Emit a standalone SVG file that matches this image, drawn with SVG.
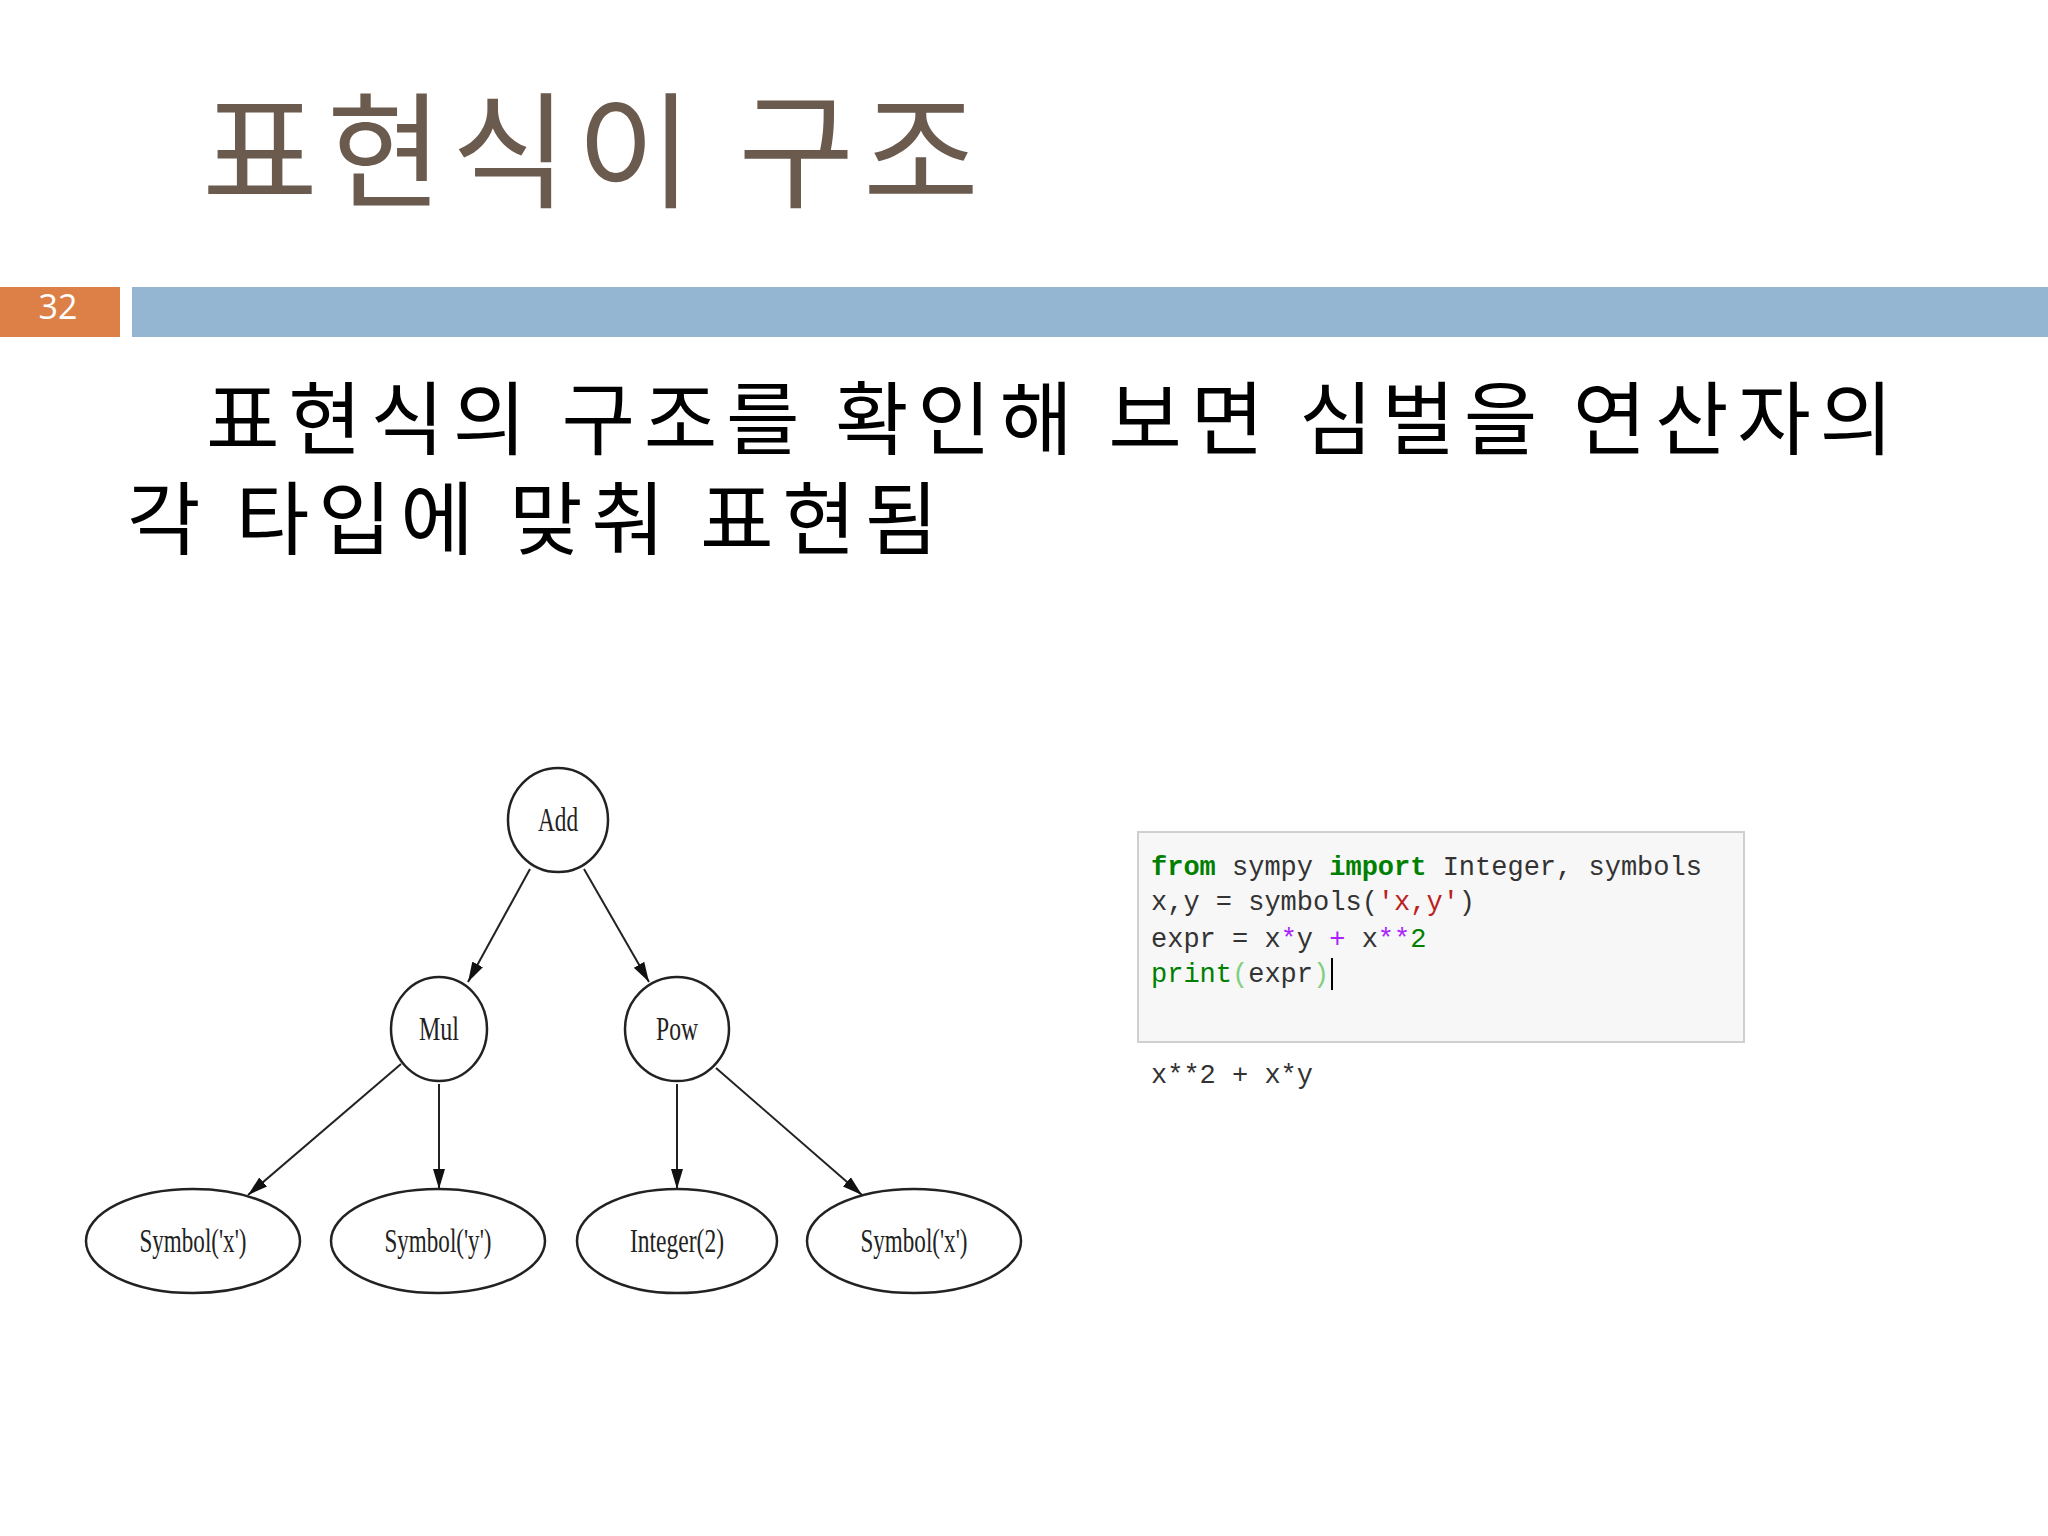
<svg xmlns="http://www.w3.org/2000/svg" width="2048" height="1536" viewBox="0 0 2048 1536">
<defs>
<marker id="ah" viewBox="0 0 10 10" refX="10" refY="5" markerWidth="20" markerHeight="20" markerUnits="userSpaceOnUse" orient="auto"><path d="M0,2 L10,5 L0,8 z" fill="#111"/></marker>
<style>
.n{fill:#fff;stroke:#222;stroke-width:2.5}
.lb{font-family:"Liberation Serif",serif;font-size:34px;fill:#222;text-anchor:middle}
.e{stroke:#222;stroke-width:2;marker-end:url(#ah);fill:none}
.kr{font-family:"Noto Sans CJK KR",sans-serif}
.code{font-family:"Liberation Mono","DejaVu Sans Mono",monospace;font-size:27px;fill:#333}
.k{fill:#008000;font-weight:bold}
.s{fill:#ba2121}
.o{fill:#aa22ff}
.g{fill:#008000}
</style>
</defs>
<rect width="2048" height="1536" fill="#fff"/>
<text class="kr" x="202" y="198" font-size="126" fill="#6b5a4e" textLength="777" lengthAdjust="spacing">표현식이 구조</text>
<rect x="0" y="287" width="120" height="50" fill="#dd8047"/>
<text x="58" y="319" font-family="Open Sans,sans-serif" font-size="34" fill="#fff" text-anchor="middle">32</text>
<rect x="132" y="287" width="1916" height="50" fill="#94b6d2"/>
<text class="kr" x="206" y="448" font-size="80" fill="#000" textLength="1687" lengthAdjust="spacing">표현식의 구조를 확인해 보면 심벌을 연산자의</text>
<text class="kr" x="127" y="548" font-size="80" fill="#000" textLength="811" lengthAdjust="spacing">각 타입에 맞춰 표현됨</text>
<g id="edges">
<line class="e" x1="530" y1="869" x2="468" y2="982"/>
<line class="e" x1="584" y1="869" x2="649" y2="982"/>
<line class="e" x1="401" y1="1064" x2="248" y2="1195"/>
<line class="e" x1="439" y1="1084" x2="439" y2="1189"/>
<line class="e" x1="677" y1="1084" x2="677" y2="1189"/>
<line class="e" x1="716" y1="1068" x2="862" y2="1195"/>
</g>
<g id="add"><ellipse class="n" cx="558" cy="820" rx="50" ry="52"/><text class="lb" x="558" y="831" textLength="40" lengthAdjust="spacingAndGlyphs">Add</text></g>
<g id="mul"><ellipse class="n" cx="439" cy="1029" rx="48" ry="52"/><text class="lb" x="439" y="1040" textLength="40" lengthAdjust="spacingAndGlyphs">Mul</text></g>
<g id="pow"><ellipse class="n" cx="677" cy="1029" rx="52" ry="52"/><text class="lb" x="677" y="1040" textLength="42" lengthAdjust="spacingAndGlyphs">Pow</text></g>
<g id="symx1"><ellipse class="n" cx="193" cy="1241" rx="107" ry="52"/><text class="lb" x="193" y="1252" textLength="107" lengthAdjust="spacingAndGlyphs">Symbol('x')</text></g>
<g id="symy"><ellipse class="n" cx="438" cy="1241" rx="107" ry="52"/><text class="lb" x="438" y="1252" textLength="107" lengthAdjust="spacingAndGlyphs">Symbol('y')</text></g>
<g id="int2"><ellipse class="n" cx="677" cy="1241" rx="100" ry="52"/><text class="lb" x="677" y="1252" textLength="94" lengthAdjust="spacingAndGlyphs">Integer(2)</text></g>
<g id="symx2"><ellipse class="n" cx="914" cy="1241" rx="107" ry="52"/><text class="lb" x="914" y="1252" textLength="107" lengthAdjust="spacingAndGlyphs">Symbol('x')</text></g>
<g id="code">
<rect x="1138" y="832" width="606" height="210" fill="#f7f7f7" stroke="#cfcfcf" stroke-width="2"/>
<text class="code" x="1151" y="875" xml:space="preserve"><tspan class="k">from</tspan> sympy <tspan class="k">import</tspan> Integer, symbols</text>
<text class="code" x="1151" y="910" xml:space="preserve">x,y = symbols(<tspan class="s">'x,y'</tspan>)</text>
<text class="code" x="1151" y="947" xml:space="preserve">expr = x<tspan class="o">*</tspan>y <tspan class="o">+</tspan> x<tspan class="o">**</tspan><tspan class="g">2</tspan></text>
<text class="code" x="1151" y="982" xml:space="preserve"><tspan class="g">print</tspan><tspan fill="#7fd07f">(</tspan>expr<tspan fill="#7fd07f">)</tspan></text>
<line x1="1332" y1="958" x2="1332" y2="990" stroke="#000" stroke-width="2"/>
<text class="code" x="1151" y="1083" xml:space="preserve">x**2 + x*y</text>
</g>
</svg>
